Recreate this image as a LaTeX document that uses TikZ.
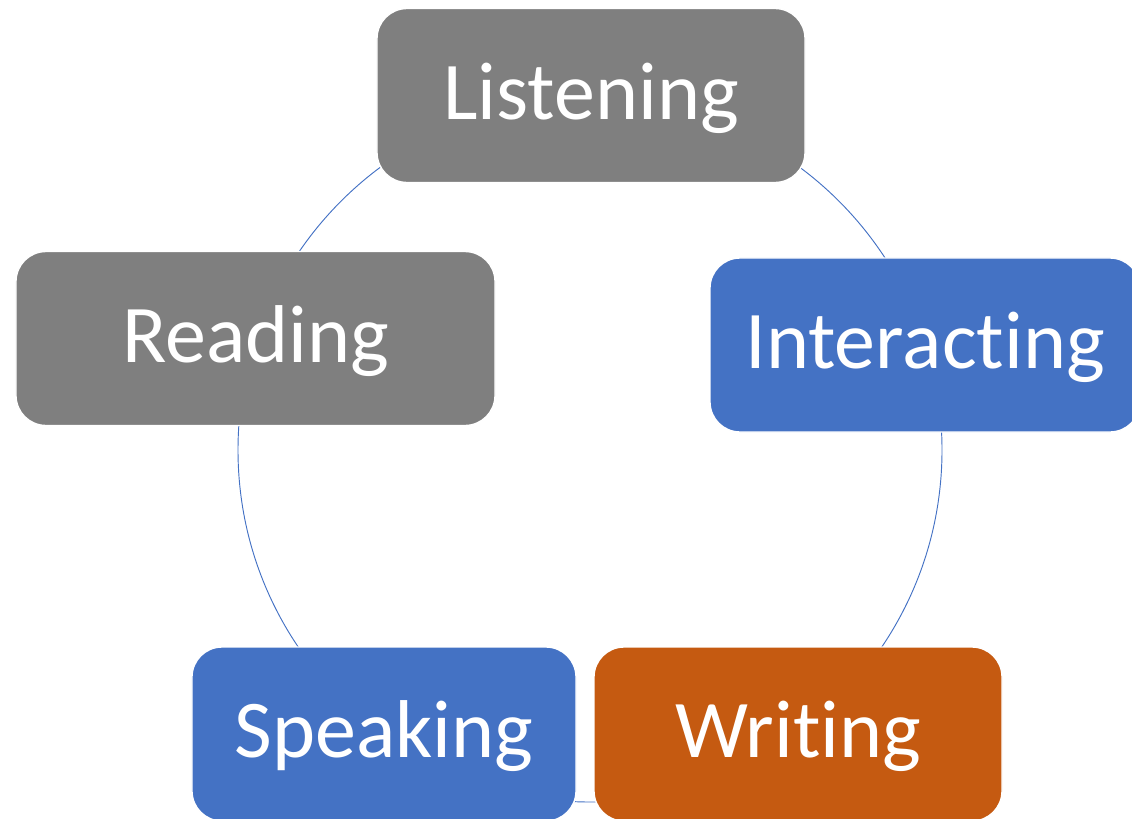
\documentclass[tikz,border=0pt]{standalone}
\usepackage{fontspec}
\setmainfont{Carlito}[Ligatures=NoCommon]
\usetikzlibrary{positioning}
\definecolor{skillgray}{HTML}{7F7F7F}
\definecolor{skillblue}{HTML}{4472C4}
\definecolor{skillorange}{HTML}{C55A11}
\begin{document}
\begin{tikzpicture}[x=0.03cm, y=-0.03cm,
    skill/.style={draw=white, line width=1.2pt, rounded corners=0.9cm, text=white,
      inner sep=0pt, font=\fontsize{70}{80}\selectfont, text height=1.41cm,
      text depth=0pt, minimum height=5.22cm}]
    \useasboundingbox (0,0) rectangle (1132,818);
    \coordinate (hub) at (590,450);
    \draw[skillblue, line width=0.8pt] (hub) circle (352);
    \node[skill, fill=skillgray, minimum width=12.84cm] (listening) at (591,95.5) {Listening};
    \node[skill, fill=skillblue, minimum width=12.9cm] (interacting) at (925,345) {Interacting};
    \node[skill, fill=skillorange, minimum width=12.24cm] (writing) at (798,734) {Writing};
    \node[skill, fill=skillblue, minimum width=11.52cm] (speaking) at (384,734) {Speaking};
    \node[skill, fill=skillgray, minimum width=14.37cm] (reading) at (255.5,338.5) {Reading};
  \end{tikzpicture}
\end{document}
